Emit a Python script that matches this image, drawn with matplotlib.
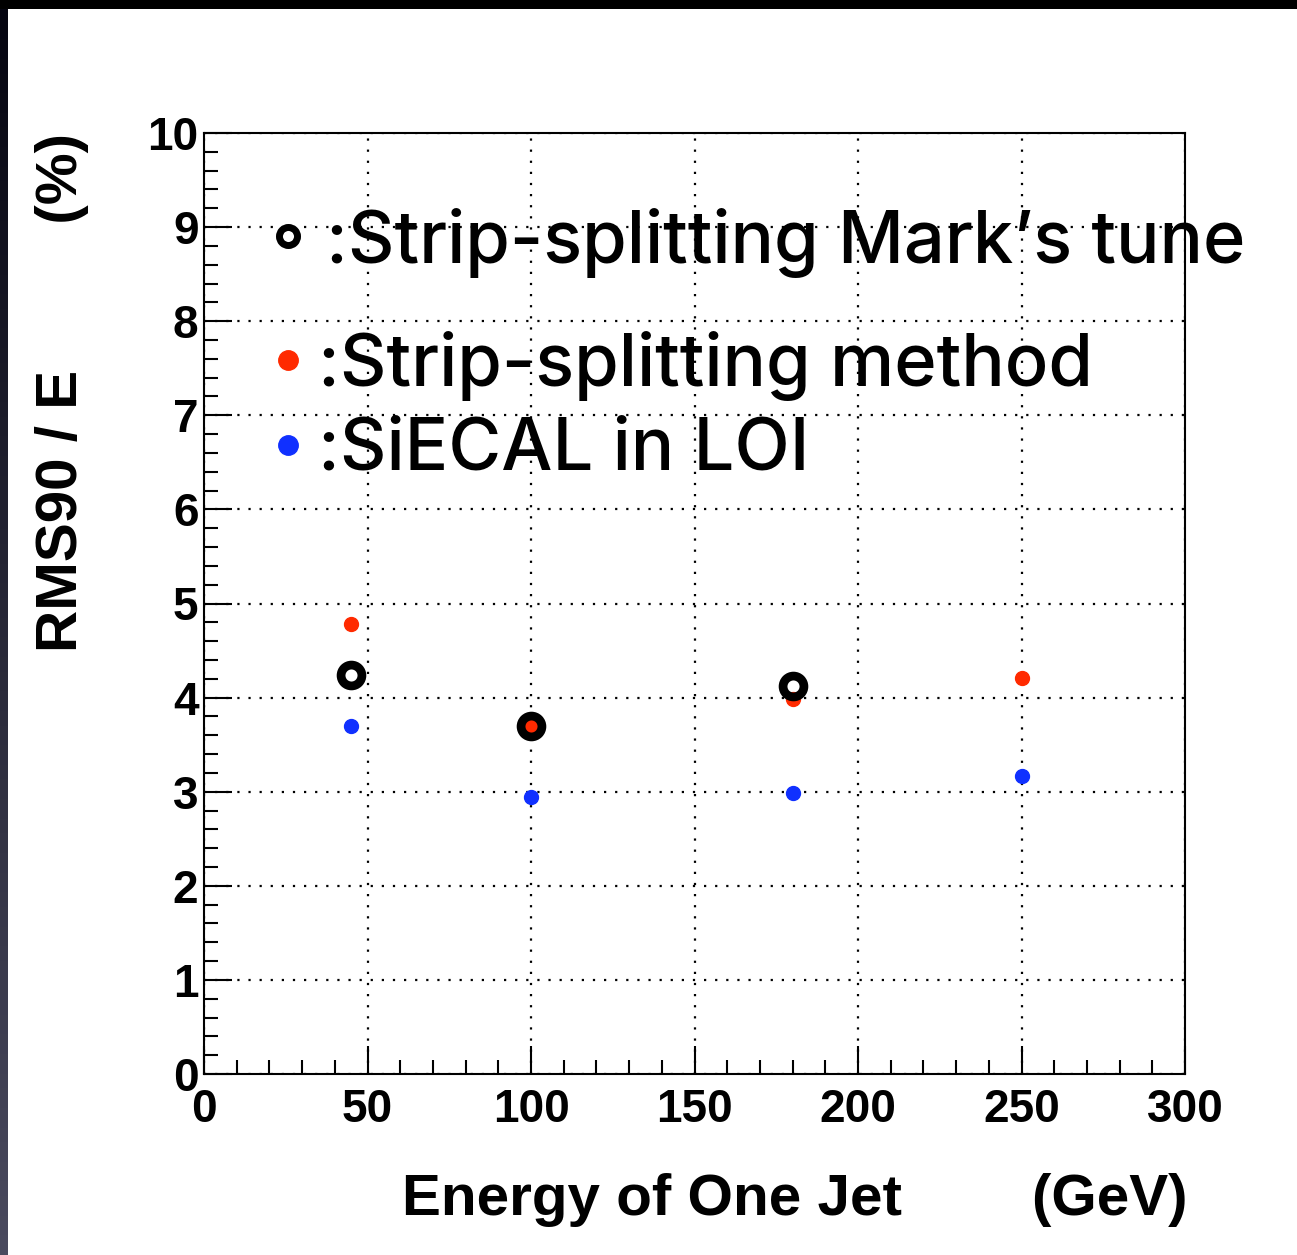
import matplotlib
matplotlib.use("Agg")
import matplotlib.pyplot as plt
from matplotlib.ticker import MultipleLocator
from matplotlib.patches import Rectangle
import numpy as np

energy_mark = [45, 100, 180]
rms_mark = [4.24, 3.70, 4.12]
energy_strip = [45, 100, 180, 250]
rms_strip = [4.78, 3.70, 3.99, 4.21]
err_strip = [0.06, 0.05, 0.05, 0.06]
energy_loi = [45, 100, 180, 250]
rms_loi = [3.70, 2.94, 2.99, 3.17]
legend_labels = [":Strip-splitting Mark\u2019s tune", ":Strip-splitting method", ":SiECAL in LOI"]

plt.rcParams['font.family'] = ['Liberation Sans', 'DejaVu Sans']

W, H = 1297, 1255
fig = plt.figure(figsize=(W/100, H/100), dpi=100)
fig.patch.set_facecolor('white')

# dark slide border
fig.patches.append(Rectangle((0, 1 - 9/H), 1, 9/H, transform=fig.transFigure,
                             facecolor='black', edgecolor='none', zorder=0))
grad = np.linspace(0, 1, 256).reshape(-1, 1)
ax_bg = fig.add_axes([0, 0, 8/W, 1])
ax_bg.imshow(grad, aspect='auto', cmap=matplotlib.colors.LinearSegmentedColormap.from_list(
    'b', ['#050510', '#4a4a5e']), extent=[0, 1, 0, 1])
ax_bg.axis('off')

left, right, top, bottom = 204, 1185, 133, 1074
ax = fig.add_axes([left/W, 1 - bottom/H, (right-left)/W, (bottom-top)/H])
ax.set_xlim(0, 300)
ax.set_ylim(0, 10)

ax.xaxis.set_major_locator(MultipleLocator(50))
ax.xaxis.set_minor_locator(MultipleLocator(10))
ax.yaxis.set_major_locator(MultipleLocator(1))
ax.yaxis.set_minor_locator(MultipleLocator(0.2))
ax.tick_params(which='both', direction='in', top=False, right=False, width=1.5)
ax.tick_params(which='major', length=20, labelsize=33, pad=4)
ax.tick_params(which='minor', length=10)
ax.tick_params(axis='x', which='major', pad=10)
for lab in ax.get_xticklabels() + ax.get_yticklabels():
    lab.set_fontweight('bold')
for sp in ax.spines.values():
    sp.set_linewidth(1.5)
ax.grid(True, which='major', linestyle=(0, (1, 4)), color='black', linewidth=1.6)
ax.set_axisbelow(True)

ax.errorbar(energy_strip, rms_strip, yerr=err_strip, fmt='o', color='#ff2a00',
            ms=10, elinewidth=2, capsize=0, zorder=3)
ax.plot(energy_loi, rms_loi, 'o', color='#1030ff', ms=10, zorder=3)
ax.plot(energy_mark, rms_mark, 'o', mfc='none', mec='black', ms=15, mew=6.3, zorder=4)

# legend-like annotations
def px(x, y):
    return ((x - left) / (right - left) * 300, (bottom - y) / (bottom - top) * 10)

ax.plot(*px(288, 236), 'o', mfc='none', mec='black', ms=13, mew=5, zorder=5, clip_on=False)
ax.plot(*px(288, 360), 'o', color='#ff2a00', ms=14, zorder=5, clip_on=False)
ax.plot(*px(288, 445), 'o', color='#1030ff', ms=14, zorder=5, clip_on=False)
lfont = dict(family=['Inter', 'DejaVu Sans'], fontsize=52, fontweight=500,
             va='center', ha='left', zorder=5)
ax.text(*px(326, 243), legend_labels[0], **lfont)
ax.text(*px(318, 366), legend_labels[1], **lfont)
ax.text(*px(318, 451), legend_labels[2], **lfont)

fig.text(795/W, 1 - 1200/H, "Energy of One Jet        (GeV)", fontsize=42,
         fontweight='bold', ha='center', va='center')
fig.text(62/W, 1 - 392/H, "RMS90 / E         (%)", fontsize=42, fontweight='bold',
         ha='center', va='center', rotation=90)

fig.savefig('out.png', dpi=100)
